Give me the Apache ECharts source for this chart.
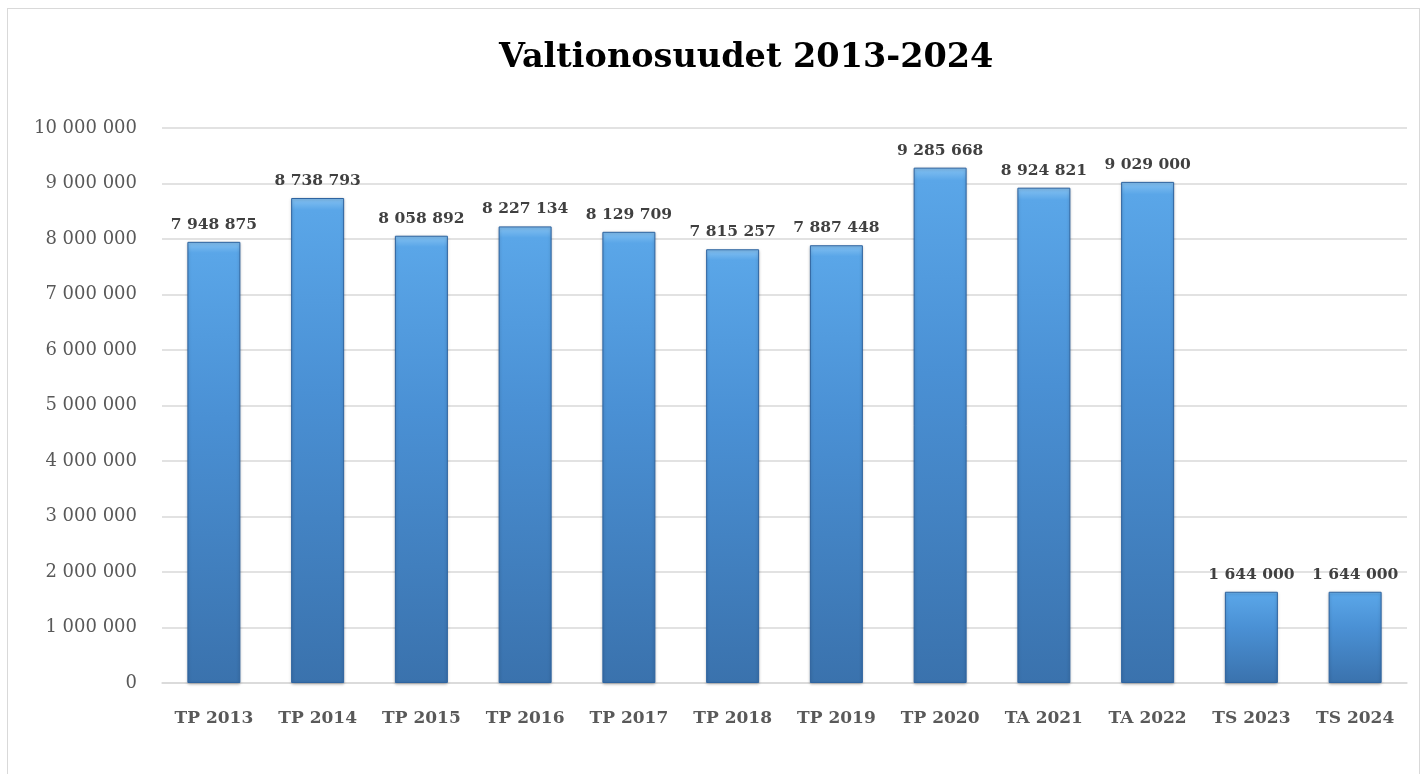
<!DOCTYPE html>
<html><head><meta charset="utf-8">
<script src="https://cdn.jsdelivr.net/npm/echarts@6/dist/echarts.min.js"></script>
<style>
html,body{margin:0;padding:0;background:#fff;}
#frame{position:absolute;left:7px;top:8px;width:1413px;height:780px;border:1px solid #d9d9d9;box-sizing:border-box;}
#c{position:absolute;left:0;top:0;width:1426px;height:774px;}
</style></head>
<body><div id="frame"></div><div id="c"></div>
<script>
const categories = ['TP 2013','TP 2014','TP 2015','TP 2016','TP 2017','TP 2018','TP 2019','TP 2020','TA 2021','TA 2022','TS 2023','TS 2024'];
const values = [7948875, 8738793, 8058892, 8227134, 8129709, 7815257, 7887448, 9285668, 8924821, 9029000, 1644000, 1644000];
const titleText = 'Valtionosuudet 2013-2024';

function fmt(v){ return String(Math.round(v)).replace(/\B(?=(\d{3})+(?!\d))/g,' '); }

const chart = echarts.init(document.getElementById('c'));
const serif = '"DejaVu Serif",serif';
chart.setOption({
  animation:false,
  backgroundColor:'transparent',
  title:{text:titleText,left:494,top:36,textStyle:{fontFamily:serif,fontWeight:'bold',fontSize:33.5,color:'#000'}},
  grid:{left:162,right:19,top:128,bottom:91,containLabel:false},
  xAxis:{type:'category',data:categories,
    axisLine:{lineStyle:{color:'#d9d9d9',width:1.5}},axisTick:{show:false},
    axisLabel:{interval:0,fontFamily:serif,fontWeight:'bold',fontSize:17,color:'#595959',margin:27}},
  yAxis:{type:'value',min:0,max:10000000,interval:1000000,
    axisLine:{show:false},axisTick:{show:false},
    splitLine:{lineStyle:{color:'#d9d9d9',width:1.5}},
    axisLabel:{fontFamily:serif,fontSize:18,color:'#595959',margin:25,formatter:fmt}},
  series:[{type:'bar',data:values,barWidth:53,
    itemStyle:{color:new echarts.graphic.LinearGradient(0,0,0,1,[
      {offset:0,color:'#85c2f2'},{offset:0.025,color:'#5aa6e8'},{offset:0.4,color:'#4a90d4'},{offset:1,color:'#3a72ad'}]),
      borderColor:'#2e64a0',borderWidth:1,
      shadowColor:'rgba(0,0,0,0.25)',shadowBlur:3,shadowOffsetY:1},
    label:{show:true,position:'top',distance:9,formatter:p=>fmt(p.value),
      fontFamily:serif,fontWeight:'bold',fontSize:15.5,color:'#404040'}}]
});
</script></body></html>
